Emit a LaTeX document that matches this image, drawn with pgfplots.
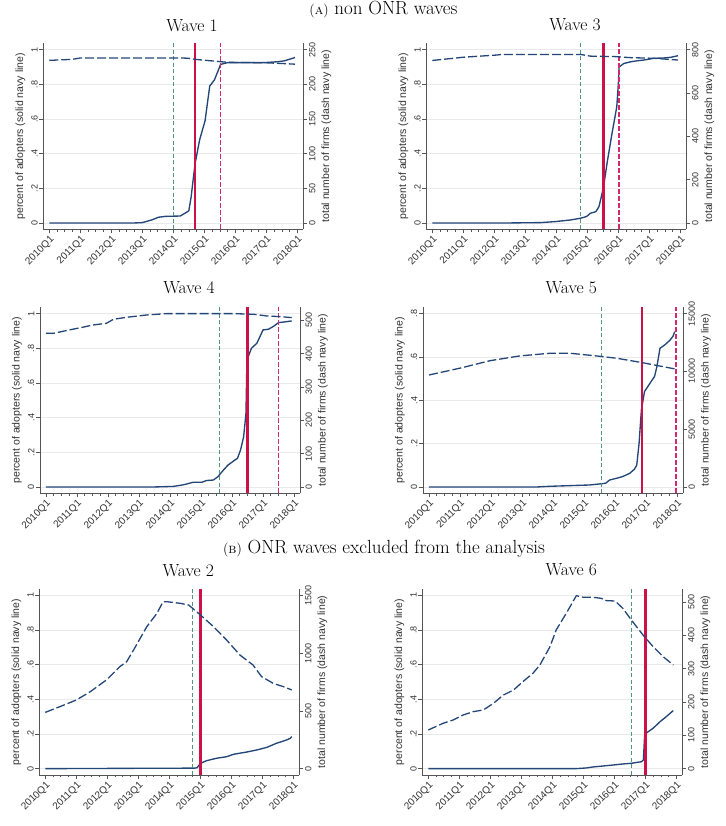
\documentclass[border=0pt]{standalone}
\usepackage{fontspec}
\usepackage{pgfplots}
\pgfplotsset{compat=1.18}
\newfontfamily\arialfont{Liberation Sans}
\definecolor{cNavy}{RGB}{35,70,120}
\definecolor{cRed}{RGB}{205,16,72}
\definecolor{cRedD}{RGB}{210,40,110}
\definecolor{cGreen}{RGB}{80,150,120}
\definecolor{axgray}{RGB}{85,85,85}
\definecolor{lblgray}{RGB}{50,50,50}
\definecolor{gridgray}{RGB}{234,234,234}
\pgfplotsset{
  panelbase/.style={scale only axis, width=260pt, height=186pt, anchor=south west,
    xmin=-0.77, xmax=32.77, scaled y ticks=false, scaled x ticks=false,
    axis line style={draw=axgray, line width=0.6pt},
    tick style={draw=axgray, line width=0.6pt},
    tick align=outside, major tick length=4pt, minor tick length=2.5pt,
    tick label style={font=\arialfont\fontsize{9}{10}\selectfont, text=lblgray}},
  leftax/.style={panelbase, axis x line*=bottom, axis y line*=left,
    xtick={0,4,8,12,16,20,24,28,32},
    xticklabels={2010Q1,2011Q1,2012Q1,2013Q1,2014Q1,2015Q1,2016Q1,2017Q1,2018Q1},
    minor x tick num=3,
    x tick label style={rotate=45, anchor=north east, inner sep=1pt, font=\arialfont\fontsize{10}{11}\selectfont},
    y tick label style={rotate=90, anchor=south, inner sep=1.5pt},
    ymajorgrids, major grid style={draw=gridgray, line width=0.5pt},
    ylabel={percent of adopters (solid navy line)},
    every axis y label/.style={at={(axis description cs:-0.0885,0.5)}, rotate=90, anchor=center,
      font=\arialfont\fontsize{10.5}{12}\selectfont, text=lblgray}},
  rightax/.style={panelbase, axis x line=none, axis y line*=right, xtick=\empty,
    y tick label style={rotate=90, anchor=north, inner sep=1.5pt},
    ylabel={total number of firms (dash navy line)},
    every axis y label/.style={at={(axis description cs:1.0885,0.5)}, rotate=90, anchor=center,
      font=\arialfont\fontsize{10.5}{12}\selectfont, text=lblgray}},
  navysolid/.style={cNavy, line width=1.35pt, no marks},
  navydash/.style={cNavy, line width=1.3pt, dash pattern=on 9pt off 3pt, no marks},
  redsolid/.style={cRed, line width=2.4pt, no marks},
  redvdash/.style={cRedD, line width=1.8pt, dash pattern=on 5pt off 2pt, no marks},
  greendash/.style={cGreen, line width=1.2pt, dash pattern=on 4pt off 2.5pt, no marks},
}
\newcommand\capfont{\fontsize{19}{21}\selectfont}
\newcommand\capsc{\fontsize{14}{16}\selectfont}
\newcommand\titfont{\fontsize{17.5}{19}\selectfont}
\begin{document}
\begin{tikzpicture}
\useasboundingbox (0pt,0pt) rectangle (725pt,826pt);
% captions
\node[anchor=base, font=\capfont] at (383.5pt,811pt) {{\capsc(\textsc{a})} non ONR waves};
\node[anchor=base, font=\capfont] at (384pt,272pt) {{\capsc(\textsc{b})} ONR waves excluded from the analysis};
% titles
\node[anchor=base, font=\titfont] at (192pt,794.3pt) {Wave 1};
\node[anchor=base, font=\titfont] at (575pt,795pt) {Wave 3};
\node[anchor=base, font=\titfont] at (189pt,532pt) {Wave 4};
\node[anchor=base, font=\titfont] at (571.3pt,532pt) {Wave 5};
\node[anchor=base, font=\titfont] at (188.3pt,249.3pt) {Wave 2};
\node[anchor=base, font=\titfont] at (571.3pt,250pt) {Wave 6};

% ===== Wave 1 =====
\begin{axis}[leftax, at={(43.3pt,596.7pt)}, ymin=-0.0366, ymax=1.0366,
  ytick={0,0.2,0.4,0.6,0.8,1}, yticklabels={0,.2,.4,.6,.8,1}]
\addplot[navysolid] coordinates {(0,0) (11,0) (12,0.002) (13.2,0.017) (14.1,0.033) (15,0.038) (16.9,0.04) (17.5,0.056) (18,0.07) (18.3,0.15) (18.8,0.34) (19.4,0.48) (20.1,0.59) (20.7,0.79) (21.3,0.825) (21.8,0.88) (22.1,0.915) (23,0.925) (27.7,0.925) (29.4,0.93) (30.3,0.935) (31.4,0.95) (31.7,0.955)};
\addplot[greendash] coordinates {(16,-0.0366) (16,1.0366)};
\addplot[redsolid] coordinates {(18.78,-0.0366) (18.78,1.0366)};
\addplot[redvdash] coordinates {(22.1,-0.0366) (22.1,1.0366)};
\end{axis}
\begin{axis}[rightax, at={(43.3pt,596.7pt)}, ymin=-9.15, ymax=259.15,
  ytick={0,50,100,150,200,250}, yticklabels={0,50,100,150,200,250}]
\addplot[navydash] coordinates {(0,234.5) (3,236) (4,238) (17,238) (18,237.5) (18.8,236) (21,233.7) (23,231.7) (28,231) (30,230) (31.7,229)};
\end{axis}

% ===== Wave 3 =====
\begin{axis}[leftax, at={(426.3pt,596.7pt)}, ymin=-0.0366, ymax=1.0366,
  ytick={0,0.2,0.4,0.6,0.8,1}, yticklabels={0,.2,.4,.6,.8,1}]
\addplot[navysolid] coordinates {(0,0) (10,0) (14,0.002) (15.9,0.008) (17.8,0.017) (19.1,0.027) (19.9,0.037) (20.4,0.056) (21.1,0.065) (21.5,0.094) (21.8,0.15) (22.1,0.21) (22.6,0.36) (23.2,0.52) (23.8,0.67) (24,0.8) (24.1,0.9) (24.7,0.92) (25.6,0.93) (26.5,0.936) (27.3,0.94) (28.6,0.95) (29.9,0.952) (30.8,0.956) (31.7,0.965)};
\addplot[greendash] coordinates {(19.1,-0.0366) (19.1,1.0366)};
\addplot[redsolid] coordinates {(22.07,-0.0366) (22.07,1.0366)};
\addplot[redvdash] coordinates {(24.1,-0.0366) (24.1,1.0366)};
\end{axis}
\begin{axis}[rightax, at={(426.3pt,596.7pt)}, ymin=-29.3, ymax=829.3,
  ytick={0,200,400,600,800}, yticklabels={0,200,400,600,800}]
\addplot[navydash] coordinates {(0,750) (2.7,760) (4,765) (8.3,775) (9,778) (19.1,778) (20.4,770) (23.5,768) (25.6,763) (28.6,760) (31.7,752)};
\end{axis}

% ===== Wave 4 =====
\begin{axis}[leftax, at={(40pt,332.7pt)}, ymin=-0.0366, ymax=1.0366,
  ytick={0,0.2,0.4,0.6,0.8,1}, yticklabels={0,.2,.4,.6,.8,1}]
\addplot[navysolid] coordinates {(0,0) (14,0) (16.4,0.003) (17.7,0.012) (19,0.027) (20.1,0.027) (20.7,0.037) (21.6,0.04) (22.2,0.06) (22.9,0.098) (23.5,0.127) (24.4,0.156) (24.7,0.165) (25.1,0.213) (25.5,0.29) (25.8,0.425) (25.9,0.675) (26.1,0.752) (26.5,0.8) (27.2,0.829) (27.6,0.867) (28,0.906) (28.7,0.91) (29.3,0.925) (30,0.948) (31.1,0.954) (31.7,0.958)};
\addplot[greendash] coordinates {(22.4,-0.0366) (22.4,1.0366)};
\addplot[redsolid] coordinates {(26,-0.0366) (26,1.0366)};
\addplot[redvdash] coordinates {(30,-0.0366) (30,1.0366)};
\end{axis}
\begin{axis}[rightax, at={(40pt,332.7pt)}, ymin=-19.0, ymax=539.0,
  ytick={0,100,200,300,400,500}, yticklabels={0,100,200,300,400,500}]
\addplot[navydash] coordinates {(0,461) (1,461) (3,471) (4.5,478) (6.1,486) (7.8,491) (8.7,503) (10.4,509) (13,516) (15.6,520) (24.2,520) (26.8,518) (28.5,513) (30.2,511) (31.7,508)};
\end{axis}

% ===== Wave 5 =====
\begin{axis}[leftax, at={(423pt,332.7pt)}, ymin=-0.0293, ymax=0.8293,
  ytick={0,0.2,0.4,0.6,0.8}, yticklabels={0,.2,.4,.6,.8}]
\addplot[navysolid] coordinates {(0,0) (14,0) (15.6,0.003) (20.7,0.009) (22.3,0.015) (22.8,0.017) (23.3,0.032) (24.2,0.04) (25,0.048) (25.9,0.063) (26.5,0.082) (26.8,0.1) (27.1,0.2) (27.4,0.355) (27.8,0.44) (28.5,0.478) (29.1,0.51) (29.4,0.555) (29.8,0.64) (30.4,0.655) (31.1,0.678) (31.5,0.697) (31.7,0.717)};
\addplot[greendash] coordinates {(22.3,-0.0293) (22.3,0.8293)};
\addplot[redsolid] coordinates {(27.5,-0.0293) (27.5,0.8293)};
\addplot[redvdash] coordinates {(31.9,-0.0293) (31.9,0.8293)};
\end{axis}
\begin{axis}[rightax, at={(423pt,332.7pt)}, ymin=-549, ymax=15549,
  ytick={0,5000,10000,15000}, yticklabels={0,5000,10000,15000}]
\addplot[navydash] coordinates {(0,9690) (4,10280) (7.9,10930) (11.7,11340) (15.6,11570) (18.2,11570) (21.6,11340) (24.2,11140) (27.5,10760) (30.2,10410) (31.7,10220)};
\end{axis}

% ===== Wave 2 =====
\begin{axis}[leftax, at={(39.3pt,51pt)}, ymin=-0.0366, ymax=1.0366,
  ytick={0,0.2,0.4,0.6,0.8,1}, yticklabels={0,.2,.4,.6,.8,1}]
\addplot[navysolid] coordinates {(0,0) (12,0.002) (19.3,0.003) (19.6,0.006) (20,0.03) (20.8,0.046) (22.1,0.06) (23.4,0.069) (24.3,0.083) (26,0.096) (27.3,0.108) (28.6,0.123) (29.8,0.146) (31.1,0.165) (31.6,0.175) (31.8,0.185)};
\addplot[greendash] coordinates {(19,-0.0366) (19,1.0366)};
\addplot[redsolid] coordinates {(20,-0.0366) (20,1.0366)};
\end{axis}
\begin{axis}[rightax, at={(39.3pt,51pt)}, ymin=-54.9, ymax=1554.9,
  ytick={0,500,1000,1500}, yticklabels={0,500,1000,1500}]
\addplot[navydash] coordinates {(0,487) (1.9,537) (4,594) (5.8,666) (7.9,768) (9.6,882) (10.5,926) (11.4,1028) (13.1,1229) (14.4,1344) (15.2,1445) (15.7,1445) (17.4,1431) (18.5,1416) (19,1388) (20,1331) (21.7,1229) (23.4,1113) (25.1,984) (26.8,897) (27.9,797) (29.4,738) (30.7,710) (31.8,681)};
\end{axis}

% ===== Wave 6 =====
\begin{axis}[leftax, at={(422.3pt,51pt)}, ymin=-0.0366, ymax=1.0366,
  ytick={0,0.2,0.4,0.6,0.8,1}, yticklabels={0,.2,.4,.6,.8,1}]
\addplot[navysolid] coordinates {(0,0) (19,0) (20.4,0.004) (21.3,0.01) (23.4,0.019) (25.1,0.027) (26.2,0.031) (27.5,0.04) (27.75,0.05) (27.9,0.185) (28.2,0.208) (29,0.233) (29.9,0.271) (30.7,0.3) (31.6,0.335)};
\addplot[greendash] coordinates {(26.25,-0.0366) (26.25,1.0366)};
\addplot[redsolid] coordinates {(28,-0.0366) (28,1.0366)};
\end{axis}
\begin{axis}[rightax, at={(422.3pt,51pt)}, ymin=-19.0, ymax=539.0,
  ytick={0,100,200,300,400,500}, yticklabels={0,100,200,300,400,500}]
\addplot[navydash] coordinates {(0,116) (1.9,136) (3.2,146) (4.5,161) (5.8,171) (7.1,176) (8.4,196) (9.7,221) (11,236) (12.2,261) (13.5,286) (14.4,311) (15.7,366) (16.5,416) (17.8,466) (19.1,519) (20,514) (21.3,514) (22.3,511) (23,504) (24.1,503) (25.1,481) (26.2,446) (27.7,401) (29,366) (30.3,336) (31.6,311)};
\end{axis}
\end{tikzpicture}
\end{document}
